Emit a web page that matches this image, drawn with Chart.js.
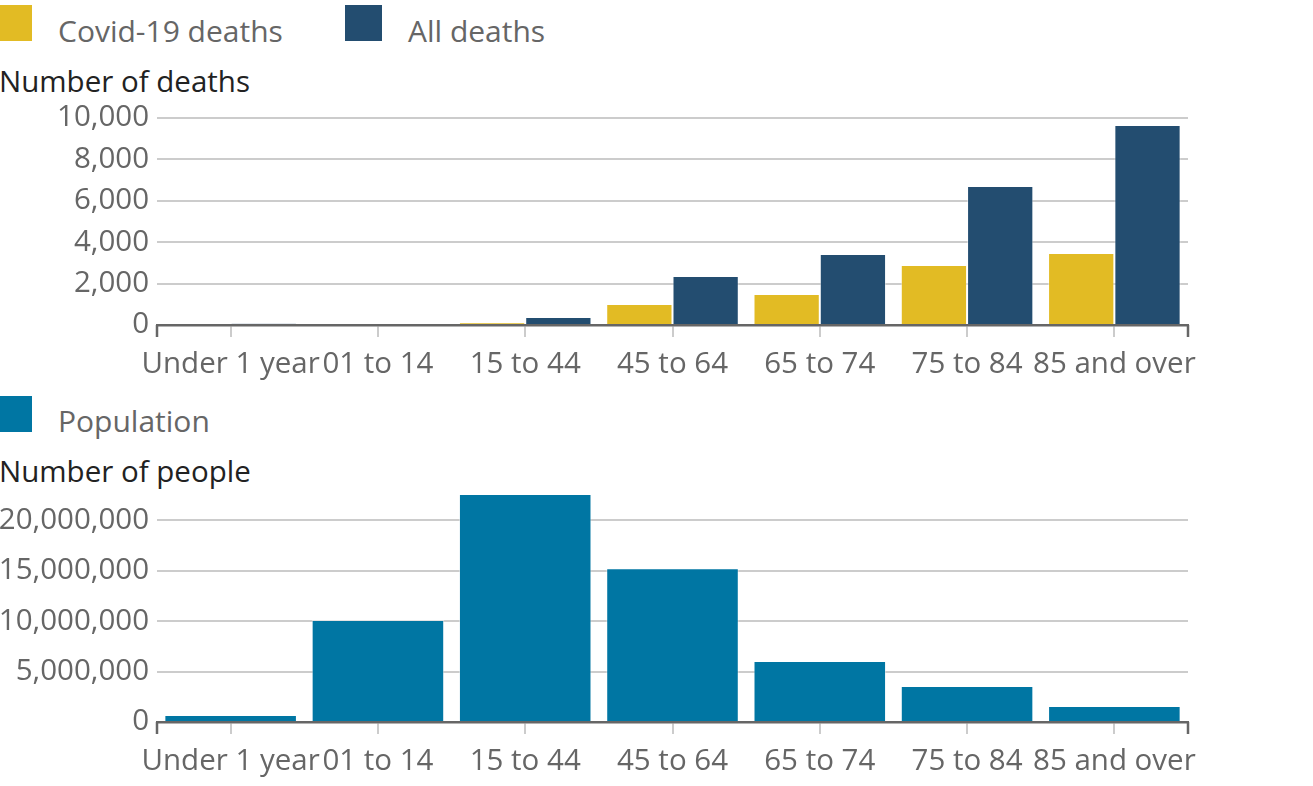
<!DOCTYPE html>
<html>
<head>
<meta charset="utf-8">
<script src="https://cdn.jsdelivr.net/npm/chart.js@4.4.1/dist/chart.umd.min.js"></script>
<style>
  html, body { margin: 0; padding: 0; background: #fff; overflow: hidden; }
  body { width: 1313px; height: 786px; position: relative; font-family: 'Open Sans', sans-serif; }
  .box { position: absolute; width: 37px; height: 36px; }
  .txt { position: absolute; font-size: 30px; line-height: 36px; color: #666; white-space: nowrap; }
  .title { position: absolute; font-size: 29.5px; line-height: 36px; color: #222; white-space: nowrap; }
  .wrap { position: absolute; left: 0; width: 1313px; }
</style>
</head>
<body>
<div class="box" style="left:-5px; top:5px; background:#e2bb24"></div>
<div class="txt" style="left:58px; top:13px">Covid-19 deaths</div>
<div class="box" style="left:345px; top:5px; background:#234d70"></div>
<div class="txt" style="left:408px; top:13px">All deaths</div>
<div class="title" style="left:-1px; top:63px">Number of deaths</div>
<div class="wrap" style="top:100px; height:290px"><canvas id="deathsChart"></canvas></div>

<div class="box" style="left:-5px; top:396px; background:#0076a3"></div>
<div class="txt" style="left:58px; top:403px">Population</div>
<div class="title" style="left:-1px; top:453px">Number of people</div>
<div class="wrap" style="top:440px; height:346px"><canvas id="popChart"></canvas></div>

<script>
// Age groups
const ageGroups = ['Under 1 year', '01 to 14', '15 to 44', '45 to 64', '65 to 74', '75 to 84', '85 and over'];

// Deaths
const covidDeaths = [2, 1, 130, 1010, 1500, 2900, 3480];
const allDeaths = [70, 20, 390, 2370, 3430, 6710, 9660];

// Population
const population = [700000, 10100000, 22600000, 15250000, 6040000, 3560000, 1580000];

const colors = {
    covid: '#e2bb24',
    all: '#234d70',
    pop: '#0076a3',
    grid: '#cccccc',
    axis: '#666666',
    text: '#666666'
};

Chart.defaults.font.family = "'Open Sans', sans-serif";
Chart.defaults.font.size = 29.5;
Chart.defaults.color = colors.text;

// dark end ticks on the x axis, like the original
const axisEnds = {
    id: 'axisEnds',
    afterDraw(chart) {
        const { ctx, chartArea } = chart;
        ctx.save();
        ctx.strokeStyle = colors.axis;
        ctx.lineWidth = 2.5;
        [chartArea.left, chartArea.right].forEach(x => {
            ctx.beginPath();
            ctx.moveTo(x, chartArea.bottom);
            ctx.lineTo(x, chartArea.bottom + 12);
            ctx.stroke();
        });
        ctx.restore();
    }
};

const fmt = v => Number(v).toLocaleString('en-GB');

function makeOptions(step, maxVal, padTop, padBottom) {
    return {
        responsive: true,
        maintainAspectRatio: false,
        animation: false,
        layout: { padding: { left: 0, right: 125, top: padTop, bottom: padBottom } },
        plugins: { legend: { display: false }, tooltip: { enabled: false } },
        scales: {
            x: {
                grid: { offset: false, drawOnChartArea: false, drawTicks: true, tickLength: 12, color: colors.grid, lineWidth: 2 },
                border: { display: true, color: colors.axis, width: 2.5, z: 1 },
                ticks: { autoSkip: false, maxRotation: 0, minRotation: 0, padding: 10, color: colors.text },
                afterFit: s => { s.height = 60; s.paddingLeft = 0; s.paddingRight = 0; }
            },
            y: {
                beginAtZero: true,
                max: maxVal,
                grid: { color: colors.grid, lineWidth: 2, drawTicks: false },
                border: { display: false },
                ticks: { stepSize: step, includeBounds: false, padding: 8, color: colors.text, callback: v => fmt(v) },
                afterBuildTicks: s => { s.ticks = s.ticks.filter(t => t.value % step === 0); },
                afterFit: s => { s.width = 157; s.paddingTop = 0; s.paddingBottom = 0; }
            }
        }
    };
}

new Chart(document.getElementById('deathsChart'), {
    type: 'bar',
    data: {
        labels: ageGroups,
        datasets: [
            { label: 'Covid-19 deaths', data: covidDeaths, backgroundColor: colors.covid, borderColor: 'rgba(255,255,255,0.45)', borderWidth: 1, categoryPercentage: 0.9, barPercentage: 1 },
            { label: 'All deaths', data: allDeaths, backgroundColor: colors.all, borderColor: 'rgba(255,255,255,0.45)', borderWidth: 1, categoryPercentage: 0.9, barPercentage: 1 }
        ]
    },
    options: makeOptions(2000, 10000, 18, 5),
    plugins: [axisEnds]
});

new Chart(document.getElementById('popChart'), {
    type: 'bar',
    data: {
        labels: ageGroups,
        datasets: [
            { label: 'Population', data: population, backgroundColor: colors.pop, borderColor: 'rgba(255,255,255,0.45)', borderWidth: 1, categoryPercentage: 0.9, barPercentage: 1 }
        ]
    },
    options: makeOptions(5000000, Math.max(...population), 54, 4),
    plugins: [axisEnds]
});
</script>
</body>
</html>
